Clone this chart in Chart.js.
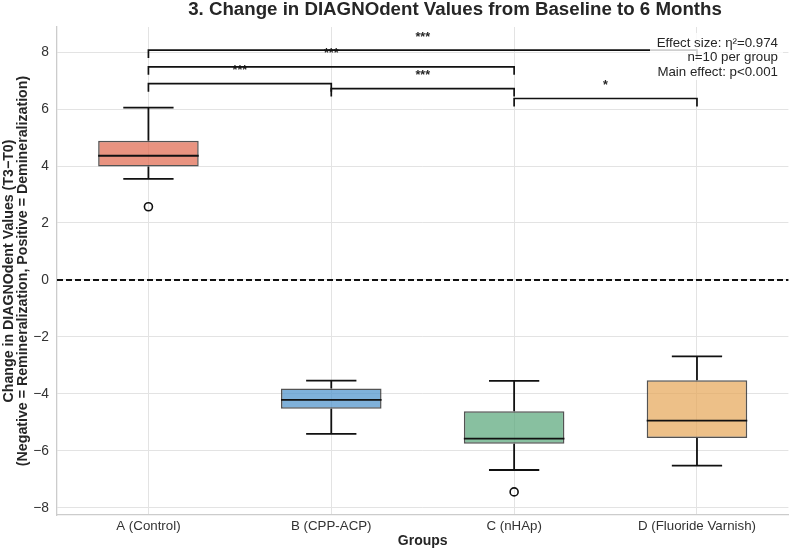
<!DOCTYPE html>
<html>
<head>
<meta charset="utf-8">
<script src="https://cdn.jsdelivr.net/npm/chart.js@4"></script>
<style>
  body { margin: 0; background: #fff; }
  #wrap { width: 794px; height: 552px; position: relative; }
</style>
</head>
<body>
<div id="wrap"><canvas id="chart"></canvas></div>
<script>
// groups and box statistics
const groups = ["A (Control)", "B (CPP-ACP)", "C (nHAp)", "D (Fluoride Varnish)"];
const whiskerLow = [3.55, -5.40, -6.67, -6.52];
const q1 = [3.98, -4.52, -5.75, -5.55];
const median = [4.36, -4.21, -5.57, -4.94];
const q3 = [4.89, -3.81, -4.61, -3.52];
const whiskerHigh = [6.05, -3.53, -3.54, -2.68];
const outliers = [2.57, null, -7.44, null];

// significance brackets
const bracketFrom = [0, 0, 0, 1, 2];
const bracketTo = [1, 2, 3, 2, 3];
const bracketLevel = [6.89, 7.48, 8.07, 6.72, 6.37];
const bracketLabel = ["***", "***", "***", "***", "*"];

const yTicks = [-8, -6, -4, -2, 0, 2, 4, 6, 8];
const statsLines = ["Effect size: η²=0.974", "n=10 per group", "Main effect: p<0.001"];

const fills = [
  "rgba(223,101,74,0.7)",
  "rgba(72,144,202,0.7)",
  "rgba(85,165,119,0.7)",
  "rgba(229,165,85,0.7)",
];

const FONT = "'Liberation Sans', Arial, sans-serif";

const boxExtras = {
  id: "boxExtras",
  afterDatasetsDraw(chart) {
    const ctx = chart.ctx;
    const x = chart.scales.x, y = chart.scales.y;
    const meta = chart.getDatasetMeta(0);
    ctx.save();
    ctx.strokeStyle = "#111";
    ctx.lineWidth = 1.8;
    groups.forEach((g, i) => {
      const bar = meta.data[i];
      const cx = x.getPixelForValue(i);
      const half = bar.width / 2;
      const cap = half / 2;
      ctx.beginPath();
      // upper whisker + cap
      ctx.moveTo(cx, y.getPixelForValue(q3[i]));
      ctx.lineTo(cx, y.getPixelForValue(whiskerHigh[i]));
      ctx.moveTo(cx - cap, y.getPixelForValue(whiskerHigh[i]));
      ctx.lineTo(cx + cap, y.getPixelForValue(whiskerHigh[i]));
      // lower whisker + cap
      ctx.moveTo(cx, y.getPixelForValue(q1[i]));
      ctx.lineTo(cx, y.getPixelForValue(whiskerLow[i]));
      ctx.moveTo(cx - cap, y.getPixelForValue(whiskerLow[i]));
      ctx.lineTo(cx + cap, y.getPixelForValue(whiskerLow[i]));
      // median
      ctx.moveTo(cx - half, y.getPixelForValue(median[i]));
      ctx.lineTo(cx + half, y.getPixelForValue(median[i]));
      ctx.stroke();
    });
    // zero reference line
    const y0 = y.getPixelForValue(0);
    ctx.setLineDash([6, 3]);
    ctx.lineWidth = 2;
    ctx.beginPath();
    ctx.moveTo(chart.chartArea.left, y0);
    ctx.lineTo(chart.chartArea.right, y0);
    ctx.stroke();
    ctx.restore();
  },
  afterDraw(chart) {
    const ctx = chart.ctx;
    const x = chart.scales.x, y = chart.scales.y;
    const tick = 0.28;
    ctx.save();
    // brackets
    bracketLevel.forEach((lvl, k) => {
      const x1 = x.getPixelForValue(bracketFrom[k]);
      const x2 = x.getPixelForValue(bracketTo[k]);
      const yl = y.getPixelForValue(lvl);
      const yt = y.getPixelForValue(lvl - tick);
      ctx.strokeStyle = "#111";
      ctx.lineWidth = 1.7;
      ctx.beginPath();
      ctx.moveTo(x1, yt);
      ctx.lineTo(x1, yl);
      ctx.lineTo(x2, yl);
      ctx.lineTo(x2, yt);
      ctx.stroke();
      ctx.fillStyle = "#262626";
      ctx.font = "bold 12.5px " + FONT;
      ctx.textAlign = "center";
      ctx.textBaseline = "middle";
      ctx.fillText(bracketLabel[k], (x1 + x2) / 2, yl - 13);
    });
    // stats box
    ctx.fillStyle = "rgba(255,255,255,0.8)";
    ctx.beginPath();
    ctx.roundRect(650, 33, 133, 47, 3);
    ctx.fill();
    ctx.fillStyle = "#262626";
    ctx.font = "13.3px " + FONT;
    ctx.textAlign = "right";
    ctx.textBaseline = "middle";
    statsLines.forEach((s, i) => ctx.fillText(s, 778, 43 + i * 14.5));
    // title
    ctx.font = "bold 18.7px " + FONT;
    ctx.textAlign = "center";
    ctx.fillText("3. Change in DIAGNOdent Values from Baseline to 6 Months", 455, 10);
    ctx.restore();
  },
};

new Chart(document.getElementById("chart"), {
  type: "bar",
  data: {
    labels: groups,
    datasets: [
      {
        data: q1.map((v, i) => [v, q3[i]]),
        backgroundColor: fills,
        borderColor: "rgba(40,40,40,0.8)",
        borderWidth: 1.5,
        borderSkipped: false,
        barPercentage: 0.55,
        categoryPercentage: 1,
      },
      {
        type: "line",
        data: outliers,
        showLine: false,
        pointRadius: 4,
        pointBackgroundColor: "rgba(255,255,255,0)",
        pointBorderColor: "#111",
        pointBorderWidth: 1.6,
      },
    ],
  },
  options: {
    responsive: true,
    maintainAspectRatio: false,
    animation: false,
    layout: { padding: { top: 27, right: 2 } },
    plugins: { legend: { display: false }, tooltip: { enabled: false } },
    scales: {
      x: {
        grid: { color: "#e3e3e3", offset: false, drawTicks: false },
        border: { display: true, color: "#cccccc", width: 1.3 },
        ticks: { color: "#333", padding: 3, font: { family: FONT, size: 13.3 } },
        title: {
          display: true,
          text: "Groups",
          color: "#262626",
          font: { family: FONT, size: 14, weight: "bold" },
          padding: { top: 0, bottom: 2 },
        },
        afterFit(scale) { scale.height = 37; },
      },
      y: {
        min: -8.25,
        max: 8.88,
        grid: { color: "#e3e3e3", drawTicks: false },
        border: { display: true, color: "#cccccc", width: 1.3 },
        afterBuildTicks(scale) { scale.ticks = yTicks.map((v) => ({ value: v })); },
        ticks: {
          color: "#333",
          padding: 8,
          font: { family: FONT, size: 13.8 },
          callback: (v) => String(v).replace("-", "\u2212"),
        },
        title: {
          display: true,
          text: [
            "Change in DIAGNOdent Values (T3\u2212T0)",
            "(Negative = Remineralization, Positive = Demineralization)",
          ],
          color: "#262626",
          font: { family: FONT, size: 14.2, weight: "bold", lineHeight: 1.0 },
          padding: { top: 2, bottom: 0 },
        },
        afterFit(scale) { scale.width = 57; },
      },
    },
  },
  plugins: [boxExtras],
});
</script>
</body>
</html>
